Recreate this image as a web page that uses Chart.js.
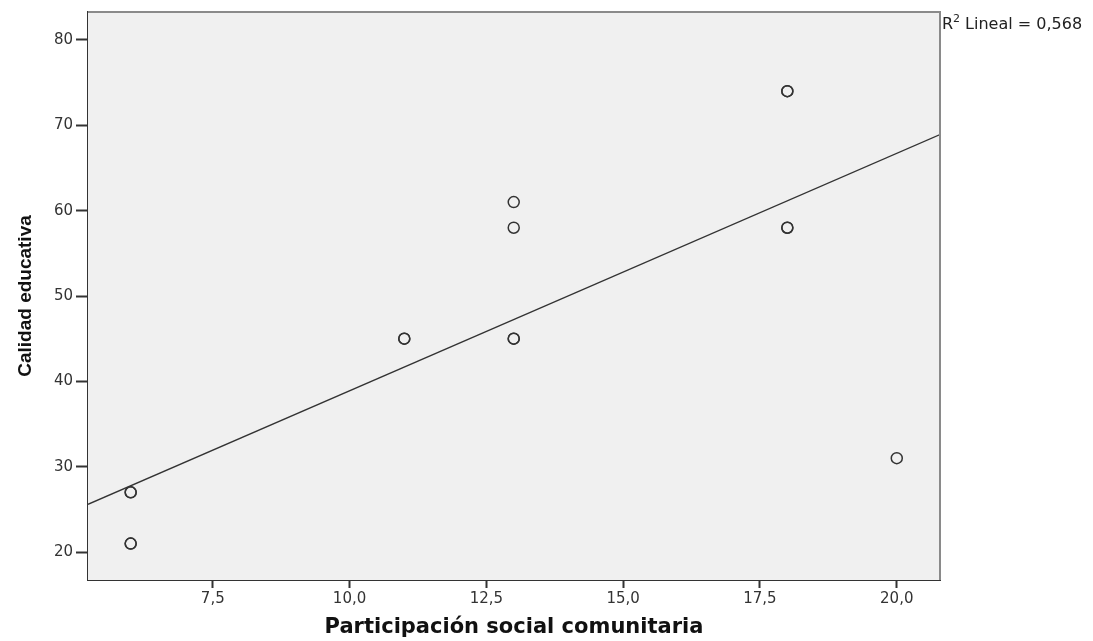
<!DOCTYPE html>
<html>
<head>
<meta charset="utf-8">
<script src="https://cdn.jsdelivr.net/npm/chart.js@4"></script>
<style>
  body { margin: 0; background: #fff; }
</style>
</head>
<body>
<canvas id="myChart" width="1093" height="641"></canvas>
<script>
  // puntos observados (los repetidos se dibujan dos veces, por eso se ven más gruesos)
  const partX = [6, 6, 6, 6, 11, 11, 13, 13, 13, 13, 18, 18, 18, 18, 20];
  const calidadY = [27, 27, 21, 21, 45, 45, 61, 58, 45, 45, 74, 74, 58, 58, 31];
  const fitX = [5.22, 20.79];
  const fitY = [25.6, 68.9];
  const xTicks = [7.5, 10, 12.5, 15, 17.5, 20];
  const yTicks = [20, 30, 40, 50, 60, 70, 80];
  const r2Text = "0,568";

  const fmt = v => v.toFixed(1).replace(".", ",");

  // fondo gris y borde superior/derecho del área de trazado
  const plotFrame = {
    id: "plotFrame",
    beforeDatasetsDraw(chart) {
      const a = chart.chartArea, c = chart.ctx;
      c.save();
      c.fillStyle = "#f0f0f0";
      c.fillRect(a.left, a.top, a.right - a.left, a.bottom - a.top);
      c.restore();
    },
    afterDraw(chart) {
      const a = chart.chartArea, c = chart.ctx;
      c.save();
      c.strokeStyle = "#8a8a8a";
      c.lineWidth = 2;
      c.beginPath();
      c.moveTo(a.left, a.top);
      c.lineTo(a.right, a.top);
      c.lineTo(a.right, a.bottom);
      c.stroke();
      // etiqueta R²
      c.fillStyle = "#222";
      c.textBaseline = "alphabetic";
      c.font = "16px 'DejaVu Sans'";
      let x = a.right + 2;
      c.fillText("R", x, 29);
      x += c.measureText("R").width;
      c.font = "11px 'DejaVu Sans'";
      c.fillText("2", x, 22);
      x += c.measureText("2").width + 5;
      c.font = "16px 'DejaVu Sans'";
      c.fillText("Lineal = " + r2Text, x, 29);
      c.restore();
    }
  };

  const ctx = document.getElementById("myChart");
  new Chart(ctx, {
    data: {
      datasets: [{
        type: "scatter",
        data: partX.map((x, i) => ({ x: x, y: calidadY[i] })),
        pointStyle: "circle",
        pointRadius: 5.5,
        pointBorderWidth: 1.5,
        pointBorderColor: "#333",
        pointBackgroundColor: "rgba(0,0,0,0)",
        order: 1
      }, {
        type: "line",
        data: fitX.map((x, i) => ({ x: x, y: fitY[i] })),
        borderColor: "#333",
        borderWidth: 1.3,
        pointRadius: 0,
        fill: false,
        order: 2
      }]
    },
    options: {
      responsive: false,
      animation: false,
      layout: { padding: { top: 10, right: 153, left: 0, bottom: 0 } },
      plugins: { legend: { display: false }, tooltip: { enabled: false } },
      scales: {
        x: {
          type: "linear",
          min: fitX[0],
          max: fitX[1],
          afterBuildTicks: s => { s.ticks = xTicks.map(v => ({ value: v })); },
          afterFit: s => { s.height = 61; },
          grid: { drawOnChartArea: false, drawTicks: true, tickLength: 8, tickWidth: 2, color: "#333" },
          border: { display: true, color: "#333", width: 2 },
          ticks: { callback: v => fmt(v), color: "#333", padding: 2, font: { family: "'DejaVu Sans'", size: 15 } },
          title: {
            display: true,
            text: "Participación social comunitaria",
            color: "#111",
            padding: { top: 0, bottom: 1 },
            font: { family: "'DejaVu Sans'", size: 21, weight: "bold" }
          }
        },
        y: {
          type: "linear",
          min: 16.73,
          max: 83.27,
          afterBuildTicks: s => { s.ticks = yTicks.map(v => ({ value: v })); },
          afterFit: s => { s.width = 88; },
          grid: { drawOnChartArea: false, drawTicks: true, tickLength: 12, tickWidth: 2, color: "#333" },
          border: { display: true, color: "#333", width: 2 },
          ticks: { color: "#333", padding: 3, font: { family: "'DejaVu Sans'", size: 15 } },
          title: {
            display: true,
            text: "Calidad educativa",
            color: "#111",
            padding: { top: 14, bottom: 0 },
            font: { family: "'Liberation Sans'", size: 19, weight: "bold" }
          }
        }
      }
    },
    plugins: [plotFrame]
  });
</script>
</body>
</html>
